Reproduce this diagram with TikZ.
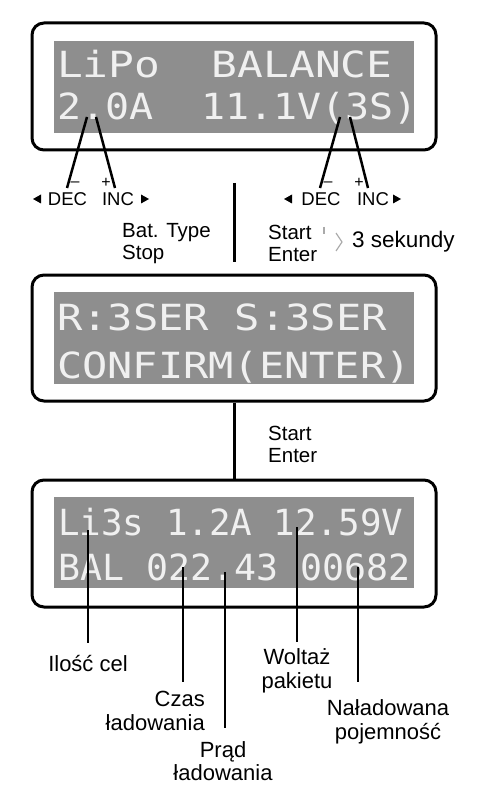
\documentclass[tikz,border=0pt]{standalone}
\usepackage{fontspec}
\setmainfont{Liberation Sans}
\newfontfamily\lcdfont{DejaVu Sans Mono}
\definecolor{lcdgray}{RGB}{142,142,142}
\definecolor{lcdwhite}{RGB}{240,240,240}
\definecolor{hintgray}{RGB}{170,170,170}
\begin{document}
\begin{tikzpicture}[x=1pt,y=-1pt,
  frame/.style={draw=black, line width=3pt, rounded corners=12pt, minimum width=404pt, inner sep=0pt},
  lcdbg/.style={fill=lcdgray, minimum width=360pt, inner sep=0pt},
  lcdtext/.style={text=lcdwhite, font=\lcdfont\fontsize{36}{36}\selectfont, inner sep=0pt, anchor=base west},
  lbl/.style={font=\fontsize{22}{23.5}\selectfont, inner sep=0pt},
  keylbl/.style={font=\fontsize{20.5}{22}\selectfont, inner sep=0pt, align=left, anchor=west},
  btn/.style={font=\fontsize{18.5}{18.5}\selectfont, inner sep=0pt},
  sgn/.style={font=\fontsize{16}{16}\selectfont, inner sep=0pt},
  conn/.style={draw=black, line width=2.5pt},
  tri/.style={fill=black}
]
\useasboundingbox (0,0) rectangle (482,794);
\fill[white] (0,0) rectangle (482,794);

% ---- display 1
\node[frame, minimum height=127pt] (f1) at (234,86.5) {};
\node[lcdbg, minimum height=92pt] (g1) at (234,87) {};
\node[lcdtext] (t11) at (57,78) {\scalebox{1.19}[1]{LiPo\ \ BALANCE}};
\node[lcdtext] (t12) at (57,120) {\scalebox{1.11}[1]{2.0A\ \ 11.1V(3S)}};

% ---- display 2
\node[frame, minimum height=126pt] (f2) at (234,338) {};
\node[lcdbg, minimum height=92pt] (g2) at (234,338) {};
\node[lcdtext] (t21) at (57,330) {\scalebox{1.17}[1]{R:3SER S:3SER}};
\node[lcdtext] (t22) at (57,378) {\scalebox{1.165}[1]{CONFIRM(ENTER)}};

% ---- display 3
\node[frame, minimum height=127pt] (f3) at (234,543.5) {};
\node[lcdbg, minimum height=91pt] (g3) at (234,542.5) {};
\node[lcdtext] (t31) at (58,535) {\scalebox{0.995}[1]{Li3s 1.2A 12.59V}};
\node[lcdtext] (t32) at (58,580) {\scalebox{1.015}[1]{BAL 022.43 00682}};

% ---- DEC / INC keys, left
\node[btn] (decL) at (67.5,199) {DEC};
\node[btn] (incL) at (118,199) {INC};
\node[sgn] (minL) at (75,184) {\textendash};
\node[sgn] (plusL) at (106,183) {+};
\fill[tri] (33,199) -- (41,194.5) -- (41,203.5) -- cycle;
\fill[tri] (149,199) -- (141,194.5) -- (141,203.5) -- cycle;
\coordinate (a1) at (87,117);  \coordinate (a1e) at (67,188);
\coordinate (a2) at (96,117);  \coordinate (a2e) at (115,188);
\draw[conn] (a1) -- (a1e);
\draw[conn] (a2) -- (a2e);

% ---- DEC / INC keys, right
\node[btn] (decR) at (321,199) {DEC};
\node[btn] (incR) at (373,199) {INC};
\node[sgn] (minR) at (328,184) {\textendash};
\node[sgn] (plusR) at (359,183) {+};
\fill[tri] (284,199) -- (292,194.5) -- (292,203.5) -- cycle;
\fill[tri] (401,199) -- (393,194.5) -- (393,203.5) -- cycle;
\coordinate (b1) at (340,117);  \coordinate (b1e) at (320,188);
\coordinate (b2) at (350,117);  \coordinate (b2e) at (368,188);
\draw[conn] (b1) -- (b1e);
\draw[conn] (b2) -- (b2e);

% ---- between display 1 and 2
\coordinate (m1) at (234,183); \coordinate (m1e) at (234,262);
\draw[conn, line width=3pt] (m1) -- (m1e);
\node[keylbl] (bat) at (122,244) {Bat. Type\\Stop};
\node[keylbl] (start1) at (268,243) {Start\\Enter};
\draw[hintgray, line width=1.2pt] (324,227) -- (324,234);
\draw[hintgray, line width=1.2pt] (336,233) -- (342,242) -- (336,251);
\node[font=\fontsize{22.5}{22.5}\selectfont, inner sep=0pt, anchor=west] (sek) at (352,242) {3 sekundy};

% ---- between display 2 and 3
\draw[conn, line width=3pt] (f2.south) -- (f3.north);
\node[keylbl] (start2) at (268,444) {Start\\Enter};

% ---- labels of display 3
\node[lbl] (ilosc) at (88,664) {Ilość cel};
\node[lbl, align=right, anchor=east] (czas) at (205,711) {Czas\\ładowania};
\node[lbl, align=center] (prad) at (223,761) {Prąd\\ładowania};
\node[lbl, align=center] (woltaz) at (297,671) {Woltaż\\pakietu};
\node[lbl, align=center] (nalad) at (388,722) {Naładowana\\pojemność};

\coordinate (c1) at (88,530);  \coordinate (c1e) at (88,643);
\coordinate (c2) at (183,567); \coordinate (c2e) at (183,682);
\coordinate (c3) at (225,572); \coordinate (c3e) at (225,728);
\coordinate (c4) at (297,527); \coordinate (c4e) at (297,642);
\coordinate (c5) at (358,567); \coordinate (c5e) at (358,682);
\draw[conn] (c1) -- (c1e);
\draw[conn] (c2) -- (c2e);
\draw[conn] (c3) -- (c3e);
\draw[conn] (c4) -- (c4e);
\draw[conn] (c5) -- (c5e);
\end{tikzpicture}
\end{document}
